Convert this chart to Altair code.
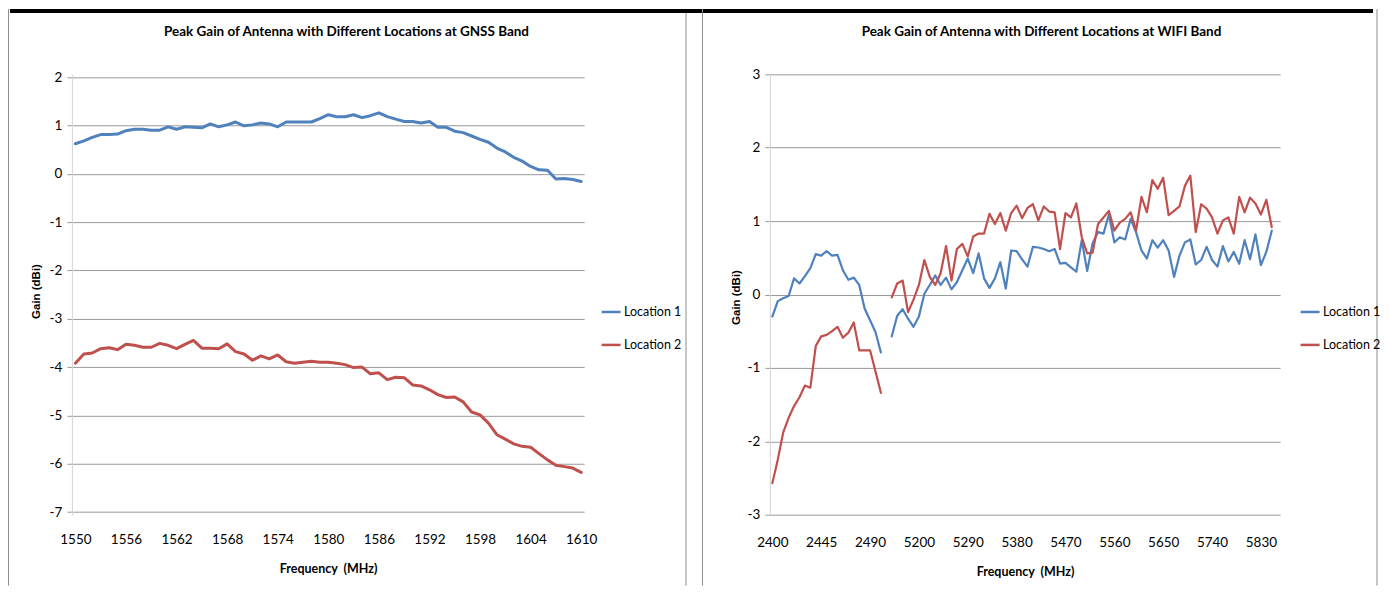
import altair as alt
import pandas as pd

# ---------------- data ----------------
GNSS_TITLE = "Peak Gain of Antenna with Different Locations at GNSS Band"
WIFI_TITLE = "Peak Gain of Antenna with Different Locations at WIFI Band"
X_TITLE = "Frequency\u00a0 (MHz)"
Y_TITLE = "Gain (dBi)"
SERIES = ["Location 1", "Location 2"]

GNSS_FREQ = list(range(1550, 1611))
GNSS_TICKS = list(range(1550, 1611, 6))
GNSS_LOC1 = [0.62, 0.68, 0.75, 0.81, 0.81, 0.82, 0.89, 0.92, 0.92, 0.90,
             0.90, 0.97, 0.92, 0.97, 0.96, 0.95, 1.03, 0.97, 1.01, 1.07,
             0.99, 1.01, 1.05, 1.03, 0.97, 1.07, 1.07, 1.07, 1.07, 1.14,
             1.22, 1.18, 1.18, 1.22, 1.16, 1.20, 1.26, 1.18, 1.13, 1.08,
             1.08, 1.05, 1.08, 0.96, 0.96, 0.88, 0.85, 0.78, 0.71, 0.65,
             0.53, 0.45, 0.34, 0.26, 0.15, 0.08, 0.07, -0.11, -0.10, -0.12,
             -0.16]
GNSS_LOC2 = [-3.92, -3.73, -3.71, -3.62, -3.60, -3.64, -3.53, -3.55, -3.59, -3.59,
             -3.51, -3.55, -3.62, -3.53, -3.45, -3.61, -3.61, -3.62, -3.52, -3.68,
             -3.73, -3.86, -3.77, -3.83, -3.75, -3.89, -3.92, -3.90, -3.88, -3.90,
             -3.90, -3.92, -3.95, -4.01, -4.00, -4.14, -4.12, -4.26, -4.21, -4.22,
             -4.37, -4.39, -4.47, -4.57, -4.63, -4.62, -4.72, -4.93, -4.99, -5.16,
             -5.40, -5.49, -5.59, -5.64, -5.66, -5.79, -5.92, -6.03, -6.06, -6.09,
             -6.18]
GNSS_Y_TICKS = list(range(-7, 3))

WIFI24_FREQ = [str(f) for f in range(2400, 2501, 5)]
WIFI5_FREQ = [str(f) for f in range(5150, 5851, 10)]
WIFI_GAP = " "
WIFI_CATS = WIFI24_FREQ + [WIFI_GAP] + WIFI5_FREQ
WIFI_TICKS = ["2400", "2445", "2490", "5200", "5290", "5380", "5470",
              "5560", "5650", "5740", "5830"]
WIFI24_LOC1 = [-0.30, -0.09, -0.05, -0.02, 0.22, 0.15, 0.25, 0.36, 0.55, 0.53,
               0.59, 0.53, 0.54, 0.33, 0.20, 0.23, 0.13, -0.19, -0.35, -0.51,
               -0.79]
WIFI24_LOC2 = [-2.57, -2.25, -1.88, -1.68, -1.52, -1.40, -1.24, -1.27, -0.70, -0.57,
               -0.55, -0.50, -0.44, -0.59, -0.52, -0.38, -0.76, -0.76, -0.76, -1.05,
               -1.34]
WIFI5_LOC1 = [-0.57, -0.29, -0.20, -0.33, -0.44, -0.30, 0.01, 0.13, 0.26, 0.13,
              0.23, 0.07, 0.17, 0.33, 0.49, 0.29, 0.56, 0.22, 0.09, 0.22,
              0.44, 0.08, 0.60, 0.59, 0.48, 0.38, 0.65, 0.64, 0.62, 0.59,
              0.62, 0.42, 0.43, 0.37, 0.31, 0.74, 0.32, 0.70, 0.85, 0.83,
              1.09, 0.71, 0.78, 0.75, 1.03, 0.85, 0.60, 0.49, 0.74, 0.64,
              0.74, 0.60, 0.24, 0.53, 0.71, 0.75, 0.41, 0.47, 0.65, 0.47,
              0.38, 0.66, 0.45, 0.58, 0.42, 0.74, 0.48, 0.82, 0.40, 0.58,
              0.87]
WIFI5_LOC2 = [-0.04, 0.15, 0.19, -0.24, -0.07, 0.13, 0.47, 0.24, 0.13, 0.29,
              0.66, 0.19, 0.62, 0.69, 0.52, 0.79, 0.83, 0.83, 1.10, 0.96,
              1.11, 0.87, 1.11, 1.21, 1.04, 1.18, 1.23, 1.01, 1.20, 1.13,
              1.12, 0.62, 1.11, 1.05, 1.24, 0.78, 0.56, 0.57, 0.96, 1.05,
              1.14, 0.87, 0.98, 1.03, 1.12, 0.87, 1.33, 1.12, 1.56, 1.44,
              1.59, 1.08, 1.14, 1.20, 1.48, 1.62, 0.85, 1.23, 1.17, 1.05,
              0.83, 1.01, 1.05, 0.83, 1.33, 1.12, 1.32, 1.24, 1.09, 1.29,
              0.92]
WIFI_Y_TICKS = list(range(-3, 4))

# ---------------- tables ----------------
gnss_rows = []
for name, vals in zip(SERIES, [GNSS_LOC1, GNSS_LOC2]):
    for f, v in zip(GNSS_FREQ, vals):
        gnss_rows.append({"freq": f, "gain": v, "loc": name})
gnss_df = pd.DataFrame(gnss_rows)

wifi_rows = []
for band, freqs, series in [("2.4", WIFI24_FREQ, [WIFI24_LOC1, WIFI24_LOC2]),
                            ("5", WIFI5_FREQ, [WIFI5_LOC1, WIFI5_LOC2])]:
    for name, vals in zip(SERIES, series):
        for f, v in zip(freqs, vals):
            wifi_rows.append({"cat": f, "gain": v, "loc": name, "band": band})
wifi_df = pd.DataFrame(wifi_rows)

ONE = pd.DataFrame({"k": [0]})

# ---------------- style ----------------
BLUE, RED = "#4F81BD", "#C0504D"
HUMAN = "Lato, 'Liberation Sans', sans-serif"
WIDE = "'Liberation Sans', Arial, sans-serif"
GRID = "#9A9A9A"
FRAME = "#8C8C8C"
H = 441
LEFT_W, RIGHT_W = 513, 511

color_scale = alt.Scale(domain=SERIES, range=[BLUE, RED])


def legend(x):
    return alt.Legend(title=None, orient="none", legendX=x, legendY=227,
                      symbolType="stroke", symbolSize=361, symbolStrokeWidth=2.5,
                      labelFont=HUMAN, labelFontSize=12.5, labelColor="#000",
                      rowPadding=15, labelOffset=2, padding=0)


def y_axis(values, title_x, title_y):
    return alt.Axis(values=values, grid=True, gridColor=GRID, gridWidth=1,
                    domainColor="#D4D4D4", tickColor=GRID, tickSize=5,
                    labelFont=HUMAN, labelFontSize=13.5, labelColor="#000",
                    labelPadding=5, labelExpr="'' + datum.value",
                    title=Y_TITLE, titleFont=WIDE,
                    titleFontSize=11.5, titleFontWeight="bold", titleColor="#000",
                    titleX=title_x, titleY=title_y, titleBaseline="middle")


def x_axis(values, pad, title_pad, quantitative):
    extra = {"labelExpr": "'' + datum.value"} if quantitative else {}
    return alt.Axis(values=values, grid=False, domain=False, ticks=False,
                    labelAngle=0, labelFont=HUMAN, labelFontSize=13.5,
                    labelColor="#000", labelPadding=pad,
                    title=X_TITLE, titleFont=HUMAN, titleFontSize=12.5,
                    titleFontWeight="bold", titleColor="#000",
                    titlePadding=title_pad, **extra)


def vline(x, y_top, y_bottom):
    return alt.Chart(ONE).mark_rule(color=FRAME, strokeWidth=1).encode(
        x=alt.value(x), y=alt.value(y_top), y2=alt.value(y_bottom))


def title_text(x, text):
    return alt.Chart(ONE).mark_text(font=HUMAN, fontSize=13.5, fontWeight="bold",
                                    color="#000", align="center",
                                    baseline="middle").encode(
        x=alt.value(x), y=alt.value(-42.3), text=alt.value(text))


# ---------------- left: GNSS ----------------
top_bar = alt.Chart(ONE).mark_rule(color="#000", strokeWidth=4).encode(
    x=alt.value(-62), x2=alt.value(1303), y=alt.value(-63.3))

gnss_lines = alt.Chart(gnss_df).mark_line(strokeWidth=3, strokeJoin="round",
                                          strokeCap="round").encode(
    x=alt.X("freq:Q", scale=alt.Scale(domain=[1549.585, 1610.355], nice=False, zero=False),
            axis=x_axis(GNSS_TICKS, 18, 16, True)),
    y=alt.Y("gain:Q", scale=alt.Scale(domain=[-7.054, 2.056], nice=False, zero=False),
            axis=y_axis(GNSS_Y_TICKS, -35, 217)),
    color=alt.Color("loc:N", scale=color_scale, legend=legend(529)),
)

left = alt.layer(
    gnss_lines,
    vline(-63.5, -65.3, 512),
    vline(615, -65.3, 512),
    top_bar,
    title_text(275, GNSS_TITLE),
).properties(width=LEFT_W, height=H)

# ---------------- right: WIFI ----------------
wifi_lines = alt.Chart(wifi_df).mark_line(strokeWidth=2.2, strokeJoin="round",
                                          strokeCap="round").encode(
    x=alt.X("cat:O", scale=alt.Scale(domain=WIFI_CATS, padding=1.01, align=0.227),
            sort=None, axis=x_axis(WIFI_TICKS, 21, 16, False)),
    y=alt.Y("gain:Q", scale=alt.Scale(domain=[-3, 3], nice=False, zero=False),
            axis=y_axis(WIFI_Y_TICKS, -33, 223)),
    color=alt.Color("loc:N", scale=color_scale, legend=legend(530)),
    detail="band:N",
)

right = alt.layer(
    wifi_lines,
    vline(-67.5, -65.3, 512),
    vline(608, -65.3, 512),
    title_text(272, WIFI_TITLE),
).properties(width=RIGHT_W, height=H)

chart = alt.hconcat(left, right, spacing=186, bounds="flush").resolve_scale(
    color="independent").resolve_legend(color="independent").properties(
    padding=0, background="white").configure_view(stroke=None)

chart.save("out.html", embed_options={"renderer": "svg", "actions": False})
